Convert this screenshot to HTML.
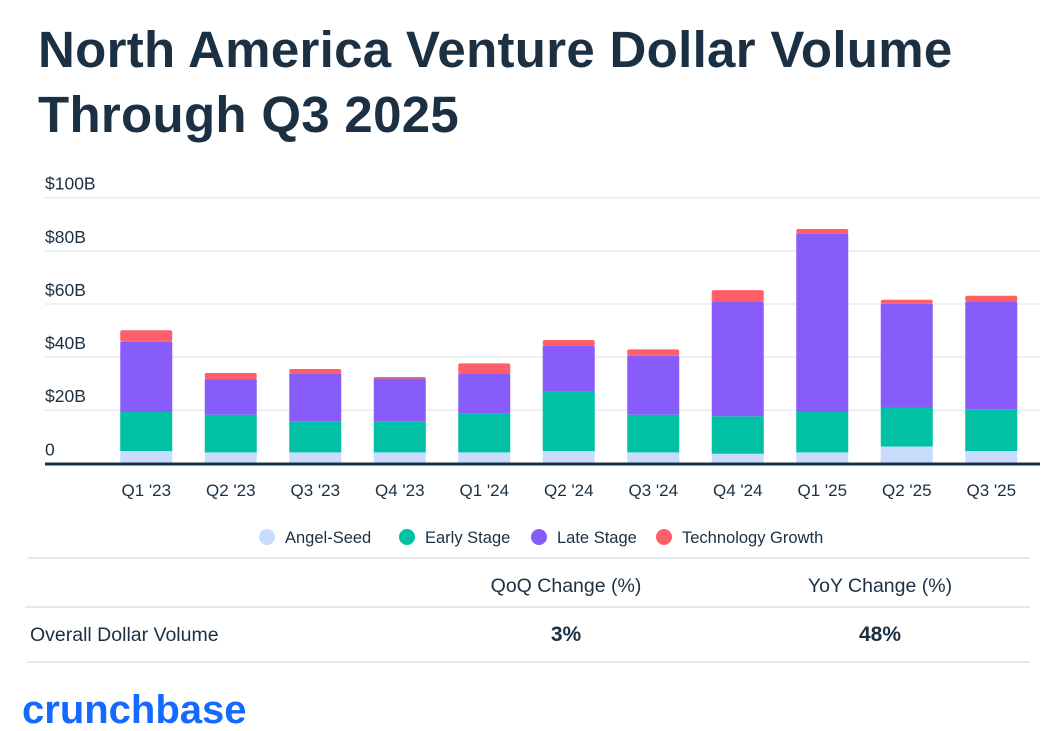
<!DOCTYPE html>
<html><head><meta charset="utf-8"><style>
body{margin:0;width:1046px;height:731px;background:#fff;font-family:"Liberation Sans",sans-serif;color:#1b3042;overflow:hidden;position:relative}
.t{position:absolute;left:38px;top:17px;font-size:51px;font-weight:bold;line-height:65px;color:#1b3042;letter-spacing:0.3px}
svg{position:absolute;left:0;top:0}
</style></head><body>
<div class="t">North America Venture Dollar Volume<br>Through Q3 2025</div>
<svg id="c" width="1046" height="731"></svg>
<script>
const categories=["Q1 '23","Q2 '23","Q3 '23","Q4 '23","Q1 '24","Q2 '24","Q3 '24","Q4 '24","Q1 '25","Q2 '25","Q3 '25"];
const angelSeed=[4.6,4.1,4.1,4.1,4.1,4.6,4.1,3.6,4.1,6.3,4.6];
const earlyStage=[14.7,14.2,11.7,11.7,14.6,22.6,14.2,14.1,15.2,14.7,15.7];
const lateStage=[26.5,13.4,18.1,16.1,15.1,17.1,22.2,43.2,67.3,39.1,40.6];
const techGrowth=[4.3,2.3,1.6,0.6,3.8,2.1,2.4,4.3,1.6,1.5,2.2];
const yTicks=[0,20,40,60,80,100];
const yTickLabels=["0","$20B","$40B","$60B","$80B","$100B"];
const seriesNames=["Angel-Seed","Early Stage","Late Stage","Technology Growth"];
const colors=["#c9dcfd","#00c1a4","#875cfb","#ff5f68"];
const NS="http://www.w3.org/2000/svg";
const svg=document.getElementById('c');
const y=v=>463.3-v*2.656;
const bandStart=104,band=84.5,bw=52;
const xc=i=>bandStart+band*i+band/2;
function mk(t,a,p){const e=document.createElementNS(NS,t);for(const k in a)e.setAttribute(k,a[k]);(p||svg).appendChild(e);return e;}
yTicks.forEach((v,i)=>{
  if(v>0){const g=mk('line',{x1:45,x2:1040,y1:y(v),y2:y(v),stroke:'#e8ebee','stroke-width':1.5});
  
  }
  const t=mk('text',{x:45,y:y(v)-8,'font-size':17.5,fill:'#1b3042'});t.textContent=yTickLabels[i];
  
  
});
const series=[angelSeed,earlyStage,lateStage,techGrowth];
categories.forEach((c,i)=>{
  let base=0;
  series.forEach((s,j)=>{
    const top=base+s[i];
    const r=mk('rect',{x:xc(i)-bw/2,y:y(top),width:bw,height:y(base)-y(top),fill:colors[j],rx:j==3?2:0});
    
    
    base=top;
  });
  const t=mk('text',{x:xc(i),y:496,'font-size':17,fill:'#1b3042','text-anchor':'middle'});t.textContent=c;
  
  
});
const ax=mk('line',{x1:45,x2:1040,y1:464,y2:464,stroke:'#1b3042','stroke-width':3});


const lx=[267,407,539,664];
seriesNames.forEach((n,j)=>{
  const g=mk('g',{});
  
  
  mk('circle',{cx:lx[j],cy:537,r:8,fill:colors[j]},g);
  const t=mk('text',{x:lx[j]+18,y:543,'font-size':16.5,fill:'#1b3042'},g);t.textContent=n;
});
[[28,558],[25,607],[27,662]].forEach(([x0,yy])=>{const l=mk('line',{x1:x0,x2:1030,y1:yy,y2:yy,stroke:'#e6e9ec','stroke-width':2});

});
function txt(s,x,yy,sz,w,anchor,name,fill){const t=mk('text',{x:x,y:yy,'font-size':sz,'font-weight':w,fill:fill||'#1b3042','text-anchor':anchor});t.textContent=s;

return t;}
txt('QoQ Change (%)',566,592,19.5,'normal','middle','qoq-header');
txt('YoY Change (%)',880,592,19.5,'normal','middle','yoy-header');
txt('Overall Dollar Volume',30,641,19.5,'normal','start','row-label');
txt('3%',566,641,21,'bold','middle','qoq-value');
txt('48%',880,641,21,'bold','middle','yoy-value');
txt('crunchbase',22,723,40,'bold','start','crunchbase-logo','#146aff');
</script>
</body></html>
